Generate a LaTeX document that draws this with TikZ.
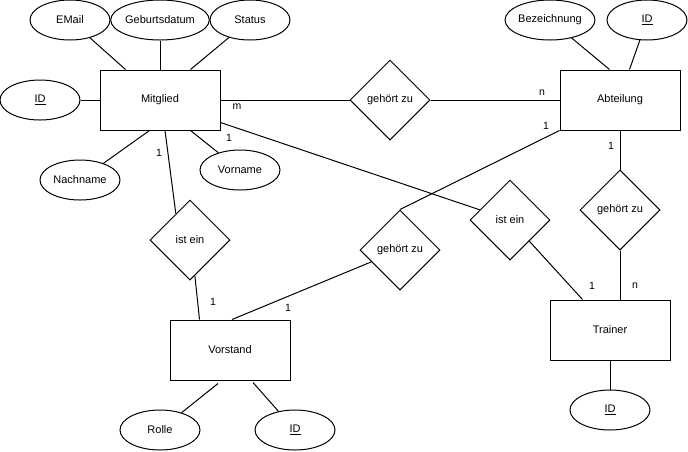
\documentclass[tikz,border=0pt]{standalone}
\usepackage{fontspec}
\setmainfont{Liberation Sans}
\usetikzlibrary{shapes.geometric,calc}
\begin{document}
\begin{tikzpicture}[x=1pt,y=-1pt,line width=1pt,
  ent/.style={draw,rectangle,minimum width=120pt,minimum height=60pt,inner sep=0pt,font=\fontsize{11}{13}\selectfont},
  att/.style={draw,ellipse,minimum width=80pt,minimum height=40pt,inner sep=0pt,font=\fontsize{11}{13}\selectfont},
  rel/.style={draw,diamond,minimum width=80pt,minimum height=80pt,inner sep=0pt,font=\fontsize{11}{13}\selectfont},
  card/.style={inner sep=0pt,font=\fontsize{10.5}{12}\selectfont}]
\useasboundingbox (0,0) rectangle (688,451);
% entities
\node[ent] (M) at (160,100) {Mitglied};
\node[ent] (A) at (620,100) {Abteilung};
\node[ent] (T) at (610,330) {Trainer};
\node[ent] (V) at (230,350) {Vorstand};
% relationships
\node[rel] (r1) at (390,100) {gehört zu};
\node[rel] (r2) at (190,240) {ist ein};
\node[rel] (r3) at (620,210) {gehört zu};
\node[rel] (r4) at (510,220) {ist ein};
\node[rel] (r5) at (400,250) {gehört zu};
% attributes
\node[att] (email) at (70,20) {EMail};
\node[att] (geb) at (160,20) {Geburtsdatum};
\node[att] (status) at (250,20) {Status};
\node[att] (idM) at (40,100) {\underline{ID}};
\node[att] (nach) at (80,180) {Nachname};
\node[att] (vor) at (240,170) {Vorname};
\node[att] (bez) at (550,20) {Bezeichnung};
\node[att] (idA) at (647,20) {\underline{ID}};
\node[att] (idT) at (610,410) {\underline{ID}};
\node[att] (rolle) at (160,430) {Rolle};
\node[att] (idV) at (295,430) {\underline{ID}};
% attribute lines
\draw (email) -- ($(M.north west)+(26,0)$);
\draw (geb) -- (M.north);
\draw (status) -- ($(M.north east)+(-30,0)$);
\draw (idM) -- (M.west);
\draw (nach) -- ($(M.south west)+(50,0)$);
\draw (vor) -- ($(M.south east)+(-30,0)$);
\draw (bez) -- ($(A.north west)+(50,0)$);
\draw (idA) -- ($(A.north west)+(70,0)$);
\draw (T) -- (idT);
\draw (rolle) -- ($(V.south)+(-12,3)$);
\draw (idV) -- ($(V.south)+(23,2)$);
% relationship lines
\draw (M) -- (r1) -- (A);
\draw (A) -- (r3);
\draw (r3.south) -- ($(T.north)+(10,0)$);
\draw ($(M.south east)+(0,-8)$) -- (r4);
\draw (r4) -- ($(T.north west)+(33,0)$);
\draw ($(M.south)+(5,0)$) -- ($(r2.west)!0.65!(r2.north)$);
\draw ($(r2.south)!0.12!(r2.east)$) -- ($(V.north west)+(30,0)$);
\draw ($(V.north)+(2,0)$) -- (r5);
\draw (r5.north) -- (A.south west);
% cardinalities
\node[card] (c1) at (237,107) {m};
\node[card] (c2) at (542,93) {n};
\node[card] (c3) at (546,126) {1};
\node[card] (c4) at (611,146) {1};
\node[card] (c5) at (229,138) {1};
\node[card] (c6) at (159,153) {1};
\node[card] (c7) at (213,302) {1};
\node[card] (c8) at (288,308) {1};
\node[card] (c9) at (592,286) {1};
\node[card] (c10) at (635,286) {n};
\end{tikzpicture}
\end{document}
